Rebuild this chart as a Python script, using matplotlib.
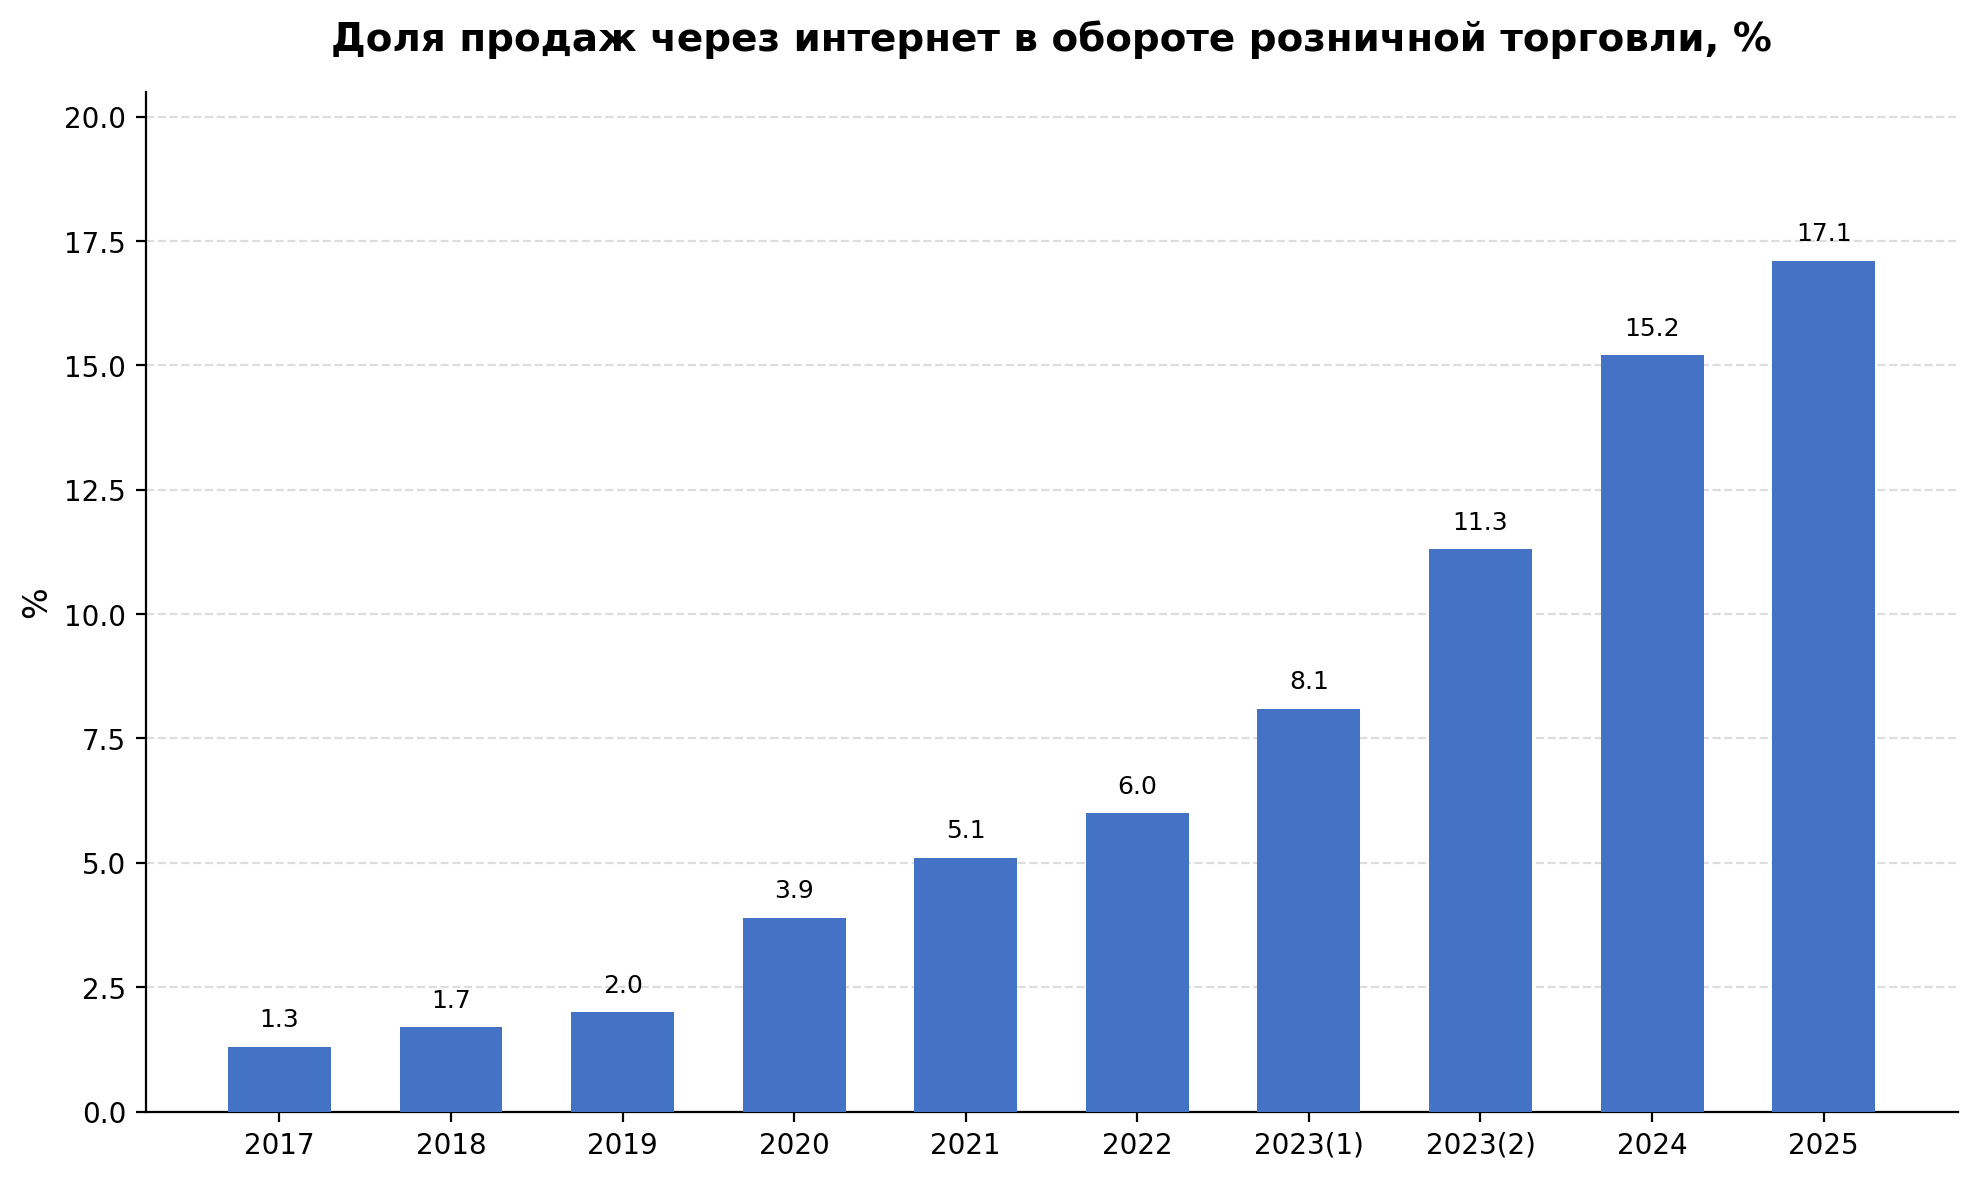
import numpy as np
import matplotlib
matplotlib.use('Agg')
import matplotlib.pyplot as plt

years = ['2017', '2018', '2019', '2020', '2021', '2022', '2023(1)', '2023(2)', '2024', '2025']
share = [1.3, 1.7, 2.0, 3.9, 5.1, 6.0, 8.1, 11.3, 15.2, 17.1]

fig, ax = plt.subplots(figsize=(10, 6))
x = np.arange(len(years))
bars = ax.bar(x, share, width=0.6, color='#4472C4', zorder=3)

for b, v in zip(bars, share):
    ax.text(b.get_x() + b.get_width() / 2, v + 0.3, f'{v:.1f}',
            ha='center', va='bottom', fontsize=9)

ax.set_xticks(x)
ax.set_xticklabels(years, fontsize=10)
ax.tick_params(axis='y', labelsize=10)
ax.set_ylim(0, 20.5)
ax.set_ylabel('%', fontsize=12)
ax.set_title('Доля продаж через интернет в обороте розничной торговли, %',
             fontsize=14, fontweight='bold', pad=15)
ax.yaxis.grid(True, linestyle='--', color='#dddddd', zorder=0)
ax.spines['top'].set_visible(False)
ax.spines['right'].set_visible(False)

plt.tight_layout()
fig.savefig('out.png', dpi=200, bbox_inches='tight')
